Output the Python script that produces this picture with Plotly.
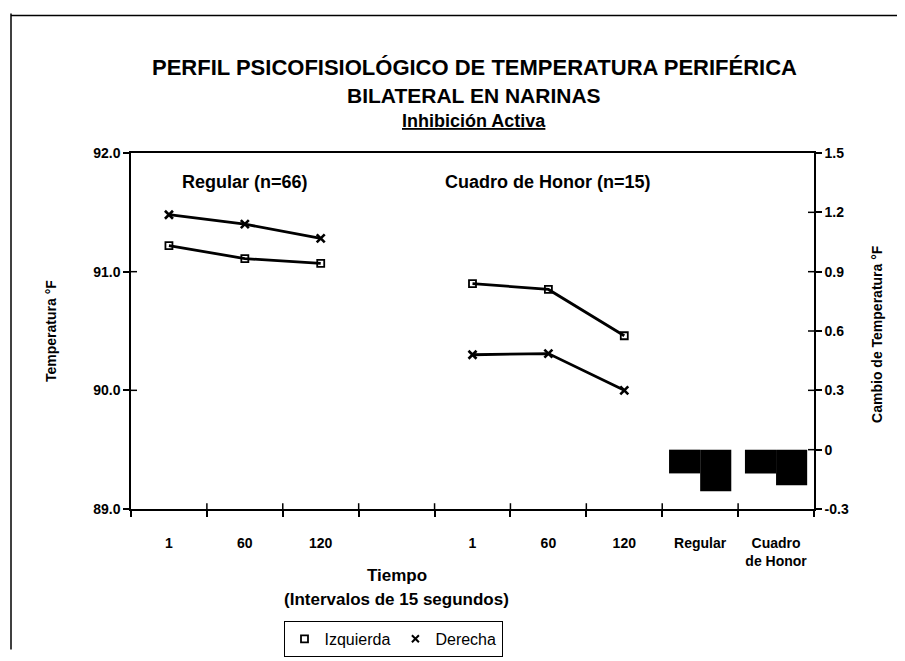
import plotly.graph_objects as go

# categories on the shared x axis (9 slots, one blank spacer)
x_labels = ["1", "60", "120", "", "1", "60", "120", "Regular", "Cuadro<br>de Honor"]

# Regular group (n=66), slots 0..2
reg_izquierda = [91.22, 91.11, 91.07]
reg_derecha = [91.48, 91.40, 91.28]
# Cuadro de Honor group (n=15), slots 4..6
hon_izquierda = [90.90, 90.85, 90.46]
hon_derecha = [90.30, 90.31, 90.00]
# change in temperature (right axis), slots 7..8
cambio_izquierda = [-0.12, -0.12]
cambio_derecha = [-0.21, -0.18]

left_ticks = [89.0, 90.0, 91.0, 92.0]
right_ticks = [-0.3, 0.0, 0.3, 0.6, 0.9, 1.2, 1.5]
right_text = ["-0.3", "0", "0.3", "0.6", "0.9", "1.2", "1.5"]

FONT = "Liberation Sans, Arial, sans-serif"
BLACK = "#000000"

W, H = 905, 661
L, R, T, B = 123, 99, 145, 146
PW, PH = W - L - R, H - T - B


def px_x(p):
    return (p - L) / PW


def px_y(p):
    return (H - B - p) / PH


fig = go.Figure()

line_style = {"color": BLACK, "width": 2.8}
sq = {"symbol": "square-open", "size": 7, "color": BLACK, "line": {"width": 1.8, "color": BLACK}}
cross = {"symbol": "x-thin-open", "size": 8, "color": BLACK, "line": {"width": 2.6, "color": BLACK}}

slots_a = [0, 1, 2]
slots_b = [4, 5, 6]
for xs, vals in [(slots_a, reg_izquierda), (slots_b, hon_izquierda)]:
    fig.add_trace(go.Scatter(x=xs, y=vals, mode="lines+markers", line=line_style, marker=sq,
                             name="Izquierda", showlegend=False))
for xs, vals in [(slots_a, reg_derecha), (slots_b, hon_derecha)]:
    fig.add_trace(go.Scatter(x=xs, y=vals, mode="lines+markers", line=line_style, marker=cross,
                             name="Derecha", showlegend=False))

# bars on the right axis
for vals, nm in [(cambio_izquierda, "Izquierda"), (cambio_derecha, "Derecha")]:
    fig.add_trace(go.Bar(x=[7, 8], y=vals, yaxis="y2", marker={"color": BLACK, "line": {"width": 0}},
                         name=nm, showlegend=False))

# legend proxies (marker only, as in the original)
fig.add_trace(go.Scatter(x=[None], y=[None], mode="markers", name="Izquierda",
                         marker={**sq, "size": 7}))
fig.add_trace(go.Scatter(x=[None], y=[None], mode="markers", name="Derecha",
                         marker={**cross, "size": 7, "line": {"width": 2, "color": BLACK}}))

axis_font = {"family": FONT, "size": 14, "color": BLACK, "weight": "bold"}

fig.update_layout(
    width=W, height=H,
    paper_bgcolor="white", plot_bgcolor="white",
    margin={"l": L, "r": R, "t": T, "b": B},
    barmode="group", bargap=0.18, bargroupgap=0,
    showlegend=True,
    legend={
        "orientation": "h", "x": px_x(385), "y": px_y(650), "xanchor": "center", "yanchor": "middle",
        "bordercolor": BLACK, "borderwidth": 1, "bgcolor": "white",
        "font": {"family": FONT, "size": 16, "color": BLACK},
        "itemwidth": 30, "tracegroupgap": 0,
    },
    xaxis={
        "range": [-0.5, 8.5], "tickmode": "array", "tickvals": list(range(len(x_labels))), "ticktext": x_labels,
        "ticks": "", "showgrid": False, "zeroline": False,
        "showline": True, "linecolor": BLACK, "linewidth": 1.5, "mirror": True,
        "tickfont": axis_font, "ticklabelstandoff": 20,
        "minor": {"tick0": -0.5, "dtick": 1, "ticks": "outside", "ticklen": 6, "tickcolor": BLACK, "tickwidth": 1.5},
    },
    yaxis={
        "range": [89, 92], "tickmode": "array", "tickvals": left_ticks,
        "ticktext": [f"{v:.1f}" for v in left_ticks],
        "ticks": "outside", "ticklen": 6, "tickcolor": BLACK, "tickwidth": 1.5,
        "showgrid": False, "zeroline": False,
        "showline": True, "linecolor": BLACK, "linewidth": 1.5,
        "tickfont": axis_font,
    },
    yaxis2={
        "range": [-0.3, 1.5], "overlaying": "y", "side": "right",
        "tickmode": "array", "tickvals": right_ticks, "ticktext": right_text,
        "ticks": "outside", "ticklen": 6, "tickcolor": BLACK, "tickwidth": 1.5,
        "showgrid": False, "zeroline": False,
        "showline": True, "linecolor": BLACK, "linewidth": 1.5,
        "tickfont": axis_font,
    },
)

# inner halves of the crossing tick marks
tick_line = {"color": BLACK, "width": 1.5}
for v in left_ticks[1:-1]:
    fig.add_shape(type="line", xref="paper", yref="y", x0=0, x1=6 / PW, y0=v, y1=v, line=tick_line)
for v in right_ticks[1:-1]:
    fig.add_shape(type="line", xref="paper", yref="y2", x0=1 - 6 / PW, x1=1, y0=v, y1=v, line=tick_line)
for k in range(1, len(x_labels)):
    fig.add_shape(type="line", xref="x", yref="paper", x0=k - 0.5, x1=k - 0.5, y0=0, y1=6 / PH, line=tick_line)

title_font = {"family": FONT, "color": BLACK, "weight": "bold"}
for text, yp, size in [
    ("PERFIL PSICOFISIOLÓGICO DE TEMPERATURA PERIFÉRICA", 56, 22),
    ("BILATERAL EN NARINAS", 85, 21),
    ("<u>Inhibición Activa</u>", 112, 18),
]:
    fig.add_annotation(x=px_x(466), y=px_y(yp), xref="paper", yref="paper", text=text, showarrow=False,
                       xanchor="center", yanchor="middle", font={**title_font, "size": size})

# axis titles
ytitle_font = {"family": FONT, "size": 14, "color": BLACK, "weight": "bold"}
fig.add_annotation(x=px_x(33), y=px_y(330), xref="paper", yref="paper", text="Temperatura °F",
                   textangle=-90, showarrow=False, font=ytitle_font)
fig.add_annotation(x=px_x(879), y=px_y(333), xref="paper", yref="paper", text="Cambio de Temperatura °F",
                   textangle=-90, showarrow=False, font=ytitle_font)

group_font = {"family": FONT, "size": 18, "color": BLACK, "weight": "bold"}
fig.add_annotation(x=1, y=px_y(175), xref="x", yref="paper", text="Regular (n=66)",
                   showarrow=False, font=group_font, yanchor="middle")
fig.add_annotation(x=5, y=px_y(175), xref="x", yref="paper", text="Cuadro de Honor (n=15)",
                   showarrow=False, font=group_font, yanchor="middle")

xt_font = {"family": FONT, "size": 17, "color": BLACK, "weight": "bold"}
fig.add_annotation(x=3, y=px_y(584), xref="x", yref="paper", text="Tiempo",
                   showarrow=False, font=xt_font, yanchor="middle")
fig.add_annotation(x=3, y=px_y(609), xref="x", yref="paper", text="(Intervalos de 15 segundos)",
                   showarrow=False, font=xt_font, yanchor="middle")

# page frame (scanned border on left and top)
fig.add_shape(type="line", xref="paper", yref="paper", x0=px_x(3), x1=px_x(3), y0=px_y(0), y1=px_y(H),
              line={"color": BLACK, "width": 1.5})
fig.add_shape(type="line", xref="paper", yref="paper", x0=px_x(3), x1=px_x(W), y0=px_y(2), y1=px_y(2),
              line={"color": BLACK, "width": 1.5})

fig.write_html("out.html")
